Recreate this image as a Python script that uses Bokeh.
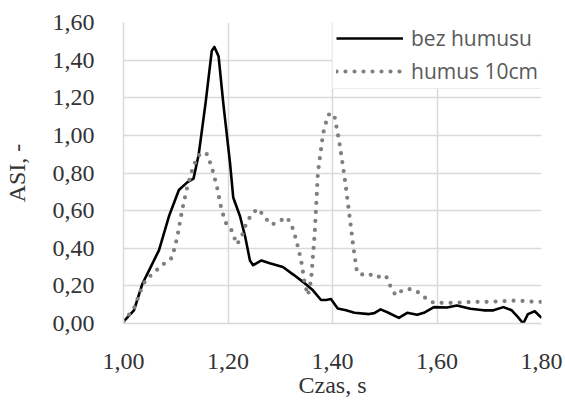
from bokeh.plotting import figure
from bokeh.models import Range1d, FixedTicker, Legend, LegendItem, CustomJSTickFormatter
from bokeh.embed import file_html
from bokeh.resources import INLINE

# ---- data ----
t_bez = [1.000, 1.020, 1.036, 1.052, 1.068, 1.087, 1.106, 1.122, 1.134, 1.144, 1.157, 1.169, 1.174, 1.182,
         1.191, 1.204, 1.210, 1.223, 1.233, 1.242, 1.248, 1.264, 1.280, 1.305, 1.325, 1.344, 1.363, 1.378,
         1.388, 1.397, 1.410, 1.426, 1.442, 1.470, 1.480, 1.492, 1.505, 1.527, 1.543, 1.562, 1.575, 1.594,
         1.619, 1.638, 1.664, 1.689, 1.708, 1.727, 1.743, 1.755, 1.765, 1.774, 1.787, 1.800]
v_bez = [0.01, 0.07, 0.21, 0.30, 0.39, 0.57, 0.71, 0.75, 0.77, 0.90, 1.17, 1.45, 1.47, 1.42,
         1.17, 0.85, 0.67, 0.57, 0.46, 0.335, 0.31, 0.335, 0.32, 0.30, 0.26, 0.22, 0.175, 0.125,
         0.125, 0.13, 0.08, 0.07, 0.057, 0.05, 0.055, 0.075, 0.06, 0.03, 0.057, 0.046, 0.057, 0.087,
         0.085, 0.096, 0.078, 0.07, 0.07, 0.087, 0.07, 0.034, 0.0, 0.05, 0.065, 0.03]

t_hum = [1.000, 1.020, 1.033, 1.042, 1.058, 1.074, 1.093, 1.103, 1.112, 1.122, 1.131, 1.141, 1.150, 1.160,
         1.169, 1.179, 1.188, 1.198, 1.207, 1.217, 1.226, 1.236, 1.248, 1.258, 1.270, 1.283, 1.296, 1.312,
         1.321, 1.331, 1.340, 1.347, 1.353, 1.359, 1.366, 1.372, 1.382, 1.391, 1.397, 1.404, 1.413, 1.423,
         1.432, 1.440, 1.447, 1.458, 1.470, 1.480, 1.502, 1.513, 1.521, 1.530, 1.544, 1.559, 1.572, 1.581,
         1.594, 1.635, 1.667, 1.698, 1.752, 1.790, 1.800]
v_hum = [0.01, 0.08, 0.175, 0.23, 0.27, 0.31, 0.35, 0.46, 0.60, 0.725, 0.81, 0.885, 0.91, 0.90,
         0.83, 0.725, 0.60, 0.52, 0.495, 0.42, 0.46, 0.54, 0.59, 0.61, 0.565, 0.525, 0.54, 0.565,
         0.53, 0.44, 0.335, 0.21, 0.15, 0.23, 0.48, 0.80, 1.01, 1.105, 1.12, 1.10, 0.965, 0.78,
         0.585, 0.405, 0.27, 0.26, 0.265, 0.245, 0.255, 0.185, 0.15, 0.17, 0.185, 0.175, 0.15, 0.128,
         0.11, 0.11, 0.115, 0.115, 0.122, 0.115, 0.115]

series_names = ["bez humusu", "humus 10cm"]
x_ticks = [1.0, 1.2, 1.4, 1.6, 1.8]
x_tick_labels = ["1,00", "1,20", "1,40", "1,60", "1,80"]
y_ticks = [0.0, 0.2, 0.4, 0.6, 0.8, 1.0, 1.2, 1.4, 1.6]
y_tick_labels = ["0,00", "0,20", "0,40", "0,60", "0,80", "1,00", "1,20", "1,40", "1,60"]
x_title = "Czas, s"
y_title = "ASI, -"

# ---- figure ----
p = figure(width=565, height=401, output_backend="svg", toolbar_location=None,
           x_range=Range1d(1.0, 1.8), y_range=Range1d(0.0, 1.6),
           min_border_left=121, min_border_right=24, min_border_top=22, min_border_bottom=78)
p.outline_line_color = None
p.background_fill_color = "white"
p.border_fill_color = "white"

serif = "Liberation Serif"
tick_font = "serif"
grid_col = "#d9d9d9"
text_col = "#333333"

fmt_code = """
let best = 0;
for (let i = 0; i < tv.length; i++) {
  if (Math.abs(tv[i] - tick) < Math.abs(tv[best] - tick)) best = i;
}
return lv[best];
"""
p.xaxis.ticker = FixedTicker(ticks=x_ticks)
p.yaxis.ticker = FixedTicker(ticks=y_ticks)
p.xaxis.formatter = CustomJSTickFormatter(args=dict(tv=x_ticks, lv=x_tick_labels), code=fmt_code)
p.yaxis.formatter = CustomJSTickFormatter(args=dict(tv=y_ticks, lv=y_tick_labels), code=fmt_code)

p.axis.axis_line_color = grid_col
p.axis.axis_line_width = 1.5
p.axis.major_tick_line_color = None
p.axis.minor_tick_line_color = None
p.axis.major_label_text_font = tick_font
p.axis.major_label_text_font_size = "24px"
p.axis.major_label_text_color = text_col
p.axis.axis_label_text_font = serif
p.axis.axis_label_text_font_size = "24px"
p.axis.axis_label_text_font_style = "normal"
p.axis.axis_label_text_color = text_col

p.xaxis.axis_label = x_title
p.yaxis.axis_label = y_title
p.xaxis.major_label_standoff = 24
p.yaxis.major_label_standoff = 23
p.xaxis.axis_label_standoff = 0
p.yaxis.axis_label_standoff = 20

p.xgrid.grid_line_color = grid_col
p.ygrid.grid_line_color = grid_col
p.xgrid.grid_line_width = 1.5
p.ygrid.grid_line_width = 1.5

r1 = p.line(t_bez, v_bez, line_color="black", line_width=2.6, line_join="round")
r2 = p.line(t_hum, v_hum, line_color="#7f7f7f", line_width=4.2, line_dash="0 9",
            line_cap="round", line_join="round")

legend = Legend(items=[LegendItem(label=series_names[0], renderers=[r1]),
                       LegendItem(label=series_names[1], renderers=[r2])],
                location=(209, 234), margin=0, padding=3, spacing=5,
                glyph_width=67, glyph_height=24, label_height=24, label_standoff=8,
                label_text_font="Open Sans", label_text_font_size="21px", label_text_color="#595959",
                border_line_color=grid_col, border_line_width=1.5,
                background_fill_color="white", background_fill_alpha=1.0)
p.add_layout(legend, "center")

open("out.html", "w").write(file_html(p, INLINE))
